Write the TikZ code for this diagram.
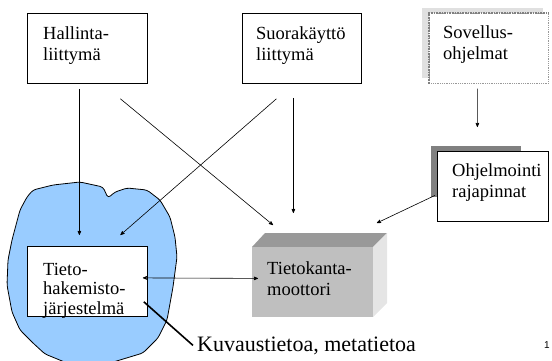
\documentclass[tikz,border=0pt]{standalone}
\usepackage{fontspec}
\setmainfont{Liberation Serif}
\newfontfamily\pagenofont{Liberation Sans}
\usetikzlibrary{calc,arrows,positioning}
\definecolor{blobblue}{RGB}{153,204,255}
\tikzset{
  boxnode/.style={draw=black,fill=white,line width=0.8pt,
   minimum width=120pt,minimum height=70pt,anchor=north west,inner sep=0pt},
  boxtext/.style={anchor=base west,inner sep=0pt,align=left,text width=100pt,
   font=\fontsize{18.5pt}{21pt}\selectfont},
  arr/.style={->,>=stealth',line width=0.6pt},
  pointer/.style={line width=1.6pt}
}
\begin{document}
\begin{tikzpicture}[x=1pt,y=-1pt]
  \useasboundingbox (0,0) rectangle (552,360);

  % metatieto blob
  \begin{scope}
    \clip (0,0) rectangle (552,360);
    \draw[fill=blobblue,line width=0.8pt,rounded corners=3pt]
      (27,197) -- (33,190) -- (53,185) -- (80,182) -- (103,187) -- (108,198)
      -- (115,192) -- (127,188) -- (147,190) -- (160,200) -- (170,217)
      -- (175,237) -- (177,257) -- (173,287) -- (167,320) -- (158,338)
      -- (143,353) -- (110,363) -- (67,363) -- (45,354) -- (33,343)
      -- (20,330) -- (12,312) -- (7,285) -- (8,260) -- (12,240) -- (20,210)
      -- cycle;
  \end{scope}

  % top row
  \node[boxnode] (hal) at (27,13) {};
  \node[boxnode,minimum width=119pt] (suo) at (242,13) {};
  \fill[black!12] (422,8) rectangle (543,78);
  \node[boxnode,minimum width=119pt,draw=gray!80,densely dotted,line width=0.6pt] (sov) at (429,13) {};
  \draw[gray,densely dotted,line width=1.6pt] (sov.south west) -- (sov.north west) -- (sov.north east);

  % interfaces
  \fill[gray] (431,146) rectangle (521,197);
  \node[boxnode,minimum width=111pt] (ohj) at (437,151) {};

  % data dictionary system
  \node[boxnode] (thd) at (27,246) {};

  % engine cube
  \fill[black!40] (252,247) -- (265,233) -- (387,233) -- (373,247) -- cycle;
  \fill[black!10] (373,247) -- (387,233) -- (387,303) -- (373,317) -- cycle;
  \node[boxnode,draw=none,fill=black!25,minimum width=121pt] (tk) at (252,247) {};

  % texts
  \node[boxtext] (halt) at ($(hal.north west)+(16,26)$) {Hallinta-\\liittymä};
  \node[boxtext] (suot) at ($(suo.north west)+(14,26)$) {Suorakäyttö\\liittymä};
  \node[boxtext] (sovt) at ($(sov.north west)+(14,25)$) {Sovellus-\\ohjelmat};
  \node[boxtext] (ohjt) at ($(ohj.north west)+(15,25)$) {Ohjelmointi\\rajapinnat};
  \node[boxtext,font=\fontsize{18.5pt}{19.5pt}\selectfont] (thdt) at ($(thd.north west)+(16,29)$) {Tieto-\\hakemisto-\\järjestelmä};
  \node[boxtext] (tkt) at ($(tk.north west)+(15,27)$) {Tietokanta-\\moottori};
  \node[anchor=base west,inner sep=0pt,font=\fontsize{22pt}{26pt}\selectfont] (kuv) at (197,351) {Kuvaustietoa, metatietoa};
  \node[anchor=base,inner sep=0pt,font=\pagenofont\fontsize{10pt}{12pt}\selectfont] (pgno) at (547,348) {1};

  % connectors
  \draw[arr] ($(hal.south)+(-8,5)$) -- ($(thd.north)+(-8,-11)$);
  \draw[arr] ($(hal.south)+(33,15)$) -- ($(tk.north west)+(21,-22)$);
  \draw[arr] ($(suo.south)+(-25.5,15)$) -- ($(thd.north)+(33,-11)$);
  \draw[arr] ($(suo.south)+(-8.5,14)$) -- ($(tk.north)+(-19.5,-34)$);
  \draw[arr] ($(sov.south)+(-11.5,5)$) -- ($(ohj.north)+(-15.5,-24)$);
  \draw[arr] ($(ohj.west)+(-2,9)$) -- ($(tk.north east)+(3,-24)$);
  \draw[arr,<->] ($(thd.east)+(-5,-3.5)$) -- ($(tk.west)+(6,-4)$);
  \draw[pointer] ($(thd.south east)+(-4,-15)$) -- ([xshift=-4pt]kuv.west);
\end{tikzpicture}
\end{document}
